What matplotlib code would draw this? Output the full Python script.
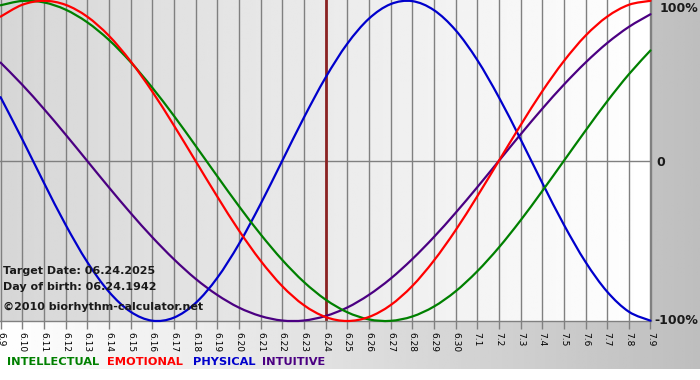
import numpy as np
import matplotlib
matplotlib.use("Agg")
import matplotlib.pyplot as plt
from matplotlib.path import Path
from matplotlib.patches import PathPatch

# ---- data ----
dates = ['6.9', '6.10', '6.11', '6.12', '6.13', '6.14', '6.15', '6.16', '6.17', '6.18',
         '6.19', '6.20', '6.21', '6.22', '6.23', '6.24', '6.25', '6.26', '6.27', '6.28',
         '6.29', '6.30', '7.1', '7.2', '7.3', '7.4', '7.5', '7.6', '7.7', '7.8', '7.9']
physical = [0.398, 0.136, -0.136, -0.398, -0.631, -0.817, -0.942, -0.998, -0.979, -0.888,
            -0.731, -0.520, -0.270, 0.0, 0.270, 0.520, 0.731, 0.888, 0.979, 0.998,
            0.942, 0.817, 0.631, 0.398, 0.136, -0.136, -0.398, -0.631, -0.817, -0.942, -0.998]
emotional = [0.901, 0.975, 1.0, 0.975, 0.901, 0.782, 0.623, 0.434, 0.222, 0.0,
             -0.222, -0.434, -0.623, -0.782, -0.901, -0.975, -1.0, -0.975, -0.901, -0.782,
             -0.623, -0.434, -0.222, 0.0, 0.222, 0.434, 0.623, 0.782, 0.901, 0.975, 1.0]
intellectual = [0.972, 0.999, 0.990, 0.945, 0.866, 0.756, 0.618, 0.458, 0.282, 0.095,
                -0.095, -0.282, -0.458, -0.618, -0.756, -0.866, -0.945, -0.990, -0.999, -0.972,
                -0.910, -0.815, -0.690, -0.541, -0.372, -0.189, 0.0, 0.189, 0.372, 0.541, 0.690]
intuitive = [0.614, 0.476, 0.325, 0.165, 0.0, -0.165, -0.325, -0.476, -0.614, -0.736,
             -0.837, -0.916, -0.969, -0.997, -0.997, -0.969, -0.916, -0.837, -0.736, -0.614,
             -0.476, -0.325, -0.165, 0.0, 0.165, 0.325, 0.476, 0.614, 0.736, 0.837, 0.916]
target_label = '6.24'
y_labels = ['100%', '0', '-100%']
legend_names = ['INTELLECTUAL', 'EMOTIONAL', 'PHYSICAL', 'INTUITIVE']
info_lines = ['Target Date: 06.24.2025', 'Day of birth: 06.24.1942', '©2010 biorhythm-calculator.net']

colors = {'INTELLECTUAL': '#008000', 'EMOTIONAL': '#ff0000',
          'PHYSICAL': '#0000cc', 'INTUITIVE': '#4b0082'}


def smooth_path(xs, ys):
    """Catmull-Rom spline through the data points, as cubic Bezier segments."""
    xs = np.asarray(xs, float)
    ys = np.asarray(ys, float)
    n = len(xs)
    verts = [(xs[0], ys[0])]
    codes = [Path.MOVETO]
    for i in range(n - 1):
        i0 = max(i - 1, 0)
        i3 = min(i + 2, n - 1)
        c1 = (xs[i] + (xs[i + 1] - xs[i0]) / 6.0, ys[i] + (ys[i + 1] - ys[i0]) / 6.0)
        c2 = (xs[i + 1] - (xs[i3] - xs[i]) / 6.0, ys[i + 1] - (ys[i3] - ys[i]) / 6.0)
        verts += [c1, c2, (xs[i + 1], ys[i + 1])]
        codes += [Path.CURVE4] * 3
    return Path(verts, codes)


W, H = 700, 380
fig = plt.figure(figsize=(W / 100, H / 100), dpi=100)
fig.patch.set_facecolor('white')

# background gradient (figure)
bg = fig.add_axes([0, 0, 1, 1], zorder=0)
grad = np.linspace(1.0, 0.745, 256)
bg.imshow(np.tile(grad, (2, 1)), cmap='gray', vmin=0, vmax=1, aspect='auto',
          extent=[0, W, H - 369, H], origin='lower')
bg.set_xlim(0, W)
bg.set_ylim(0, H)
bg.axis('off')

# main axes
ax_left, ax_right = 0.0, 650.5
ax_top, ax_bot = 0.0, 321.0
ax = fig.add_axes([ax_left / W, (H - ax_bot) / H, (ax_right - ax_left) / W, (ax_bot - ax_top) / H],
                  zorder=1)
ax.set_facecolor('none')
x = np.arange(len(dates))
xmin, xmax = -0.025, len(dates) - 1 + 0.0
ymin, ymax = -1.0, 1.005
ax.set_xlim(xmin, xmax)
ax.set_ylim(ymin, ymax)

pgrad = np.linspace(0.84, 1.0, 256)
ax.imshow(np.tile(pgrad, (2, 1)), cmap='gray', vmin=0, vmax=1, aspect='auto',
          extent=[xmin, xmax, ymin, ymax], origin='lower', zorder=0)

grid_c = '#808080'
for xi in x:
    ax.axvline(xi, color=grid_c, lw=1.0, zorder=1)
ax.axhline(0, color=grid_c, lw=1.0, zorder=1)

for s in ['top', 'left']:
    ax.spines[s].set_visible(False)
for s in ['bottom', 'right']:
    ax.spines[s].set_color(grid_c)
    ax.spines[s].set_linewidth(1.0)

ti = dates.index(target_label)
ax.axvline(x[ti], color='#8b2323', lw=2.0, zorder=2)

series = {'INTELLECTUAL': intellectual, 'EMOTIONAL': emotional,
          'PHYSICAL': physical, 'INTUITIVE': intuitive}
for name in ['INTUITIVE', 'PHYSICAL', 'INTELLECTUAL', 'EMOTIONAL']:
    p = PathPatch(smooth_path(x, series[name]), facecolor='none', edgecolor=colors[name],
                  lw=1.6, zorder=3, clip_on=False, capstyle='round', joinstyle='round')
    ax.add_patch(p)

ax.set_xticks(x)
ax.set_xticklabels(dates, rotation=-90, fontsize=6.5, family='DejaVu Sans')
ax.tick_params(axis='x', direction='out', length=6, color=grid_c, width=1.0, pad=2)
ax.set_yticks([])

# right-side labels
lab_kw = dict(fontsize=9, fontweight='bold', color='#1a1a1a', family='DejaVu Sans', va='center')
fig.text(698 / W, 1 - 8 / H, y_labels[0], ha='right', **lab_kw)
fig.text(656 / W, 1 - 162 / H, y_labels[1], ha='left', **lab_kw)
fig.text(698 / W, 1 - 321 / H, y_labels[2], ha='right', **lab_kw)

# info texts
for txt, yy in zip(info_lines, [271, 287, 307]):
    fig.text(3 / W, 1 - yy / H, txt, ha='left', va='center', fontsize=8.0,
             fontweight='bold', color='#1a1a1a', family='DejaVu Sans', zorder=5)

# legend texts
for name, xx in zip(legend_names, [7, 107, 193, 262]):
    fig.text(xx / W, 1 - 362 / H, name, ha='left', va='center', fontsize=8.2,
             fontweight='bold', color=colors[name], family='DejaVu Sans')

fig.savefig('out.png', dpi=100)
